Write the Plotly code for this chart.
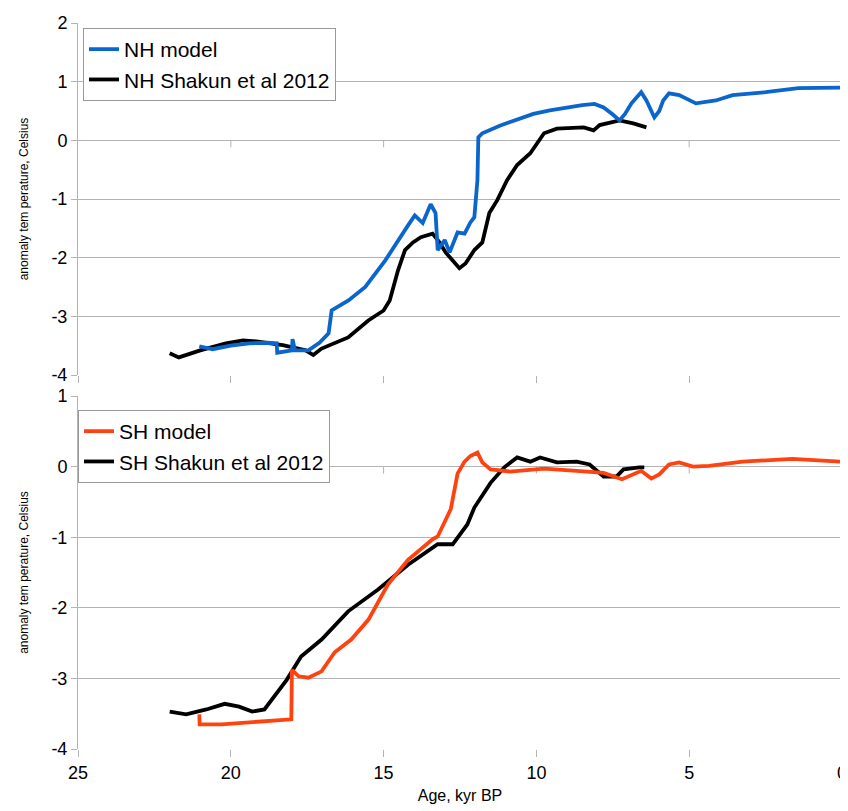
import plotly.graph_objects as go

# ---------------- data ----------------
nh_model_age = [21.03, 20.6, 20.0, 19.4, 18.8, 18.5, 18.48, 18.2, 18.0, 17.98, 17.9, 17.46, 17.1, 16.8,
                16.7, 16.15, 15.6, 14.95, 14.53, 14.2, 13.98, 13.72, 13.46, 13.3, 13.23, 13.0, 12.84,
                12.58, 12.35, 12.16, 12.03, 11.93, 11.9, 11.77, 11.2, 10.63, 10.1, 9.56, 9.0, 8.5, 8.1,
                7.8, 7.5, 7.28, 7.1, 6.89, 6.57, 6.4, 6.14, 5.98, 5.85, 5.66, 5.33, 5.0, 4.78, 4.13,
                3.58, 2.5, 1.43, 0.0]
nh_model_val = [-3.51, -3.56, -3.50, -3.46, -3.45, -3.46, -3.62, -3.60, -3.58, -3.39, -3.58, -3.58, -3.45, -3.29,
                -2.90, -2.73, -2.50, -2.05, -1.70, -1.45, -1.28, -1.41, -1.09, -1.24, -1.87, -1.70, -1.91,
                -1.57, -1.59, -1.40, -1.31, -0.68, 0.05, 0.12, 0.25, 0.35, 0.45, 0.51, 0.56, 0.60, 0.62,
                0.56, 0.44, 0.34, 0.45, 0.63, 0.82, 0.68, 0.39, 0.50, 0.68, 0.80, 0.77, 0.68, 0.63, 0.68,
                0.77, 0.82, 0.89, 0.90]

nh_shakun_age = [22.0, 21.7, 21.0, 20.16, 19.6, 19.1, 18.3, 17.55, 17.3, 17.03, 16.16, 15.5, 15.0, 14.8,
                 14.53, 14.3, 14.04, 13.78, 13.4, 13.17, 12.97, 12.74, 12.52, 12.32, 12.03, 11.77, 11.54,
                 11.28, 10.96, 10.63, 10.2, 9.75, 9.33, 8.45, 8.13, 7.93, 7.28, 6.83, 6.4]
nh_shakun_val = [-3.63, -3.70, -3.58, -3.46, -3.41, -3.43, -3.49, -3.58, -3.66, -3.55, -3.36, -3.07, -2.90, -2.73,
                 -2.22, -1.87, -1.74, -1.65, -1.59, -1.74, -1.91, -2.05, -2.18, -2.10, -1.87, -1.74, -1.24,
                 -1.02, -0.68, -0.42, -0.22, 0.12, 0.20, 0.22, 0.17, 0.26, 0.34, 0.29, 0.22]

sh_model_age = [21.03, 21.02, 20.3, 19.2, 18.2, 18.02, 18.0, 17.78, 17.46, 17.03, 16.6, 16.06, 15.5, 14.86,
                14.2, 13.4, 13.23, 12.8, 12.58, 12.35, 12.16, 11.93, 11.77, 11.5, 10.86, 9.75, 8.68, 7.8,
                7.2, 6.83, 6.57, 6.24, 5.98, 5.66, 5.33, 4.88, 4.35, 3.25, 1.63, 0.0]
sh_model_val = [-3.51, -3.65, -3.65, -3.61, -3.58, -3.58, -2.88, -2.97, -2.99, -2.90, -2.63, -2.45, -2.17, -1.67,
                -1.32, -1.03, -0.99, -0.60, -0.10, 0.07, 0.15, 0.20, 0.06, -0.04, -0.07, -0.03, -0.06, -0.09,
                -0.18, -0.11, -0.06, -0.17, -0.11, 0.03, 0.06, 0.0, 0.01, 0.07, 0.11, 0.07]

sh_shakun_age = [22.0, 21.46, 20.8, 20.2, 19.73, 19.3, 18.9, 18.53, 18.17, 17.7, 17.03, 16.16, 15.18, 14.2,
                 13.23, 12.74, 12.26, 12.03, 11.5, 11.05, 10.63, 10.2, 9.88, 9.33, 8.68, 8.26, 7.8, 7.38,
                 7.15, 6.63, 6.47]
sh_shakun_val = [-3.47, -3.51, -3.44, -3.36, -3.40, -3.47, -3.44, -3.23, -3.02, -2.69, -2.45, -2.05, -1.74, -1.39,
                 -1.10, -1.10, -0.82, -0.58, -0.23, -0.01, 0.13, 0.07, 0.13, 0.06, 0.07, 0.03, -0.14, -0.14,
                 -0.04, -0.01, -0.01]

x_ticks = [25, 20, 15, 10, 5, 0]
x_tick_labels = ["25", "20", "15", "10", "5", "0"]
top_y_ticks = [2, 1, 0, -1, -2, -3, -4]
top_y_labels = ["2", "1", "0", "-1", "-2", "-3", "-4"]
bot_y_ticks = [1, 0, -1, -2, -3, -4]
bot_y_labels = ["1", "0", "-1", "-2", "-3", "-4"]

# ---------------- styles ----------------
BLUE = "#0A66CC"
ORANGE = "#FF420E"
BLACK = "#000000"
GRID = "#B3B3B3"
FONT = "Liberation Sans"
W, H = 840, 803          # page body has an 8px margin
L, R = 70, 6
PW = W - L - R

fig = go.Figure()

fig.add_trace(go.Scatter(x=nh_shakun_age, y=nh_shakun_val, mode="lines", name="NH Shakun et al 2012",
                         line=dict(color=BLACK, width=3.8), xaxis="x", yaxis="y", legend="legend", legendrank=2))
fig.add_trace(go.Scatter(x=nh_model_age, y=nh_model_val, mode="lines", name="NH model",
                         line=dict(color=BLUE, width=3.8), xaxis="x", yaxis="y", legend="legend", legendrank=1))
fig.add_trace(go.Scatter(x=sh_shakun_age, y=sh_shakun_val, mode="lines", name="SH Shakun et al 2012",
                         line=dict(color=BLACK, width=3.8), xaxis="x2", yaxis="y2", legend="legend2", legendrank=2))
fig.add_trace(go.Scatter(x=sh_model_age, y=sh_model_val, mode="lines", name="SH model",
                         line=dict(color=ORANGE, width=3.8), xaxis="x2", yaxis="y2", legend="legend2", legendrank=1))

xcommon = dict(range=[25, 0], tickvals=x_ticks, ticktext=x_tick_labels, showgrid=False, zeroline=False,
               ticks="outside", ticklen=7, tickcolor=GRID, tickwidth=1,
               showline=False, fixedrange=True, ticklabeloverflow="allow")
ycommon = dict(showgrid=True, gridcolor=GRID, gridwidth=1, zeroline=False,
               ticks="outside", ticklen=6, tickcolor=GRID, showline=True, linecolor=GRID, linewidth=1,
               tickfont=dict(family=FONT, size=18, color="#000"),
               title=dict(text="anomaly tem perature, Celsius", font=dict(family=FONT, size=12, color="#000"),
                          standoff=20))

fig.update_layout(
    width=W, height=H,
    margin=dict(l=L, r=R, t=0, b=0, autoexpand=False),
    paper_bgcolor="white", plot_bgcolor="white",
    font=dict(family=FONT, color="#000"),
    xaxis=dict(**xcommon, domain=[0, 1], anchor="y", showticklabels=False),
    yaxis=dict(**ycommon, domain=[(H - 367) / H, (H - 15) / H], range=[-4, 2],
               tickvals=top_y_ticks, ticktext=top_y_labels),
    xaxis2=dict(**xcommon, domain=[0, 1], anchor="y2", showticklabels=True,
                tickfont=dict(family=FONT, size=18, color="#000"),
                title=dict(text="Age, kyr BP", font=dict(family=FONT, size=16, color="#000"), standoff=8)),
    yaxis2=dict(**ycommon, domain=[(H - 741) / H, (H - 388) / H], range=[-4, 1],
                tickvals=bot_y_ticks, ticktext=bot_y_labels),
    legend=dict(x=(75 - L) / PW, y=(H - 20) / H, xanchor="left", yanchor="top",
                bordercolor="#999999", borderwidth=1, bgcolor="white",
                font=dict(family=FONT, size=21, color="#000"), itemwidth=30, tracegroupgap=0),
    legend2=dict(x=0.0, y=(H - 402) / H, xanchor="left", yanchor="top",
                 bordercolor="#999999", borderwidth=1, bgcolor="white",
                 font=dict(family=FONT, size=21, color="#000"), itemwidth=30, tracegroupgap=0),
    showlegend=True,
)

# tick marks on the y=0 line (axis crossing) for both panels
shapes = []
for xr, yr in (("x", "y"), ("x2", "y2")):
    for t in x_ticks[1:-1]:
        shapes.append(dict(type="line", xref=xr, yref=yr, x0=t, x1=t, ysizemode="pixel", yanchor=0,
                           y0=0, y1=-7, line=dict(color=GRID, width=1), layer="below"))
fig.update_layout(shapes=shapes)

fig.write_html("out.html")
